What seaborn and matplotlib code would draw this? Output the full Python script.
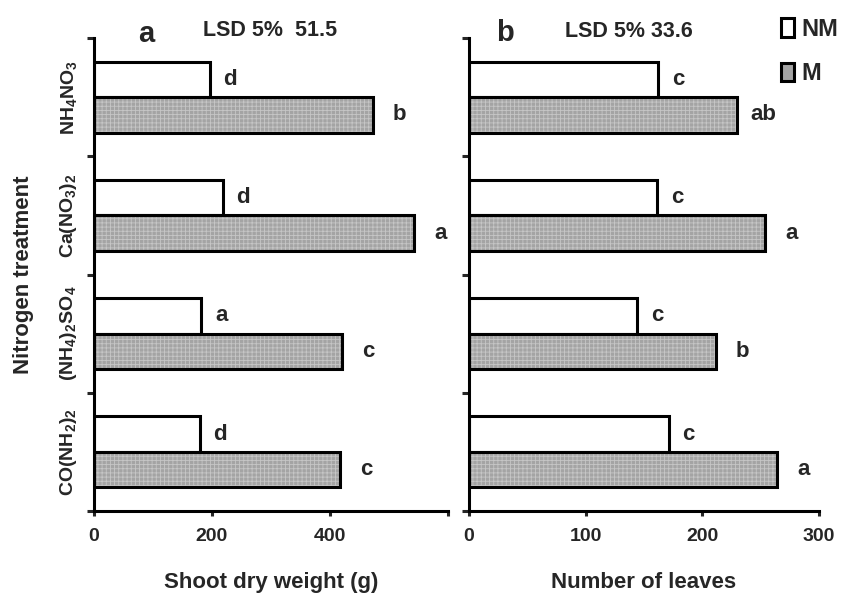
import matplotlib
matplotlib.use("Agg")
import matplotlib.pyplot as plt
import seaborn as sns
import pandas as pd
from matplotlib.patches import Rectangle, Patch

# ---------------- data ----------------
treatments = ["NH$_4$NO$_3$", "Ca(NO$_3$)$_2$", "(NH$_4$)$_2$SO$_4$", "CO(NH$_2$)$_2$"]
groups = ["NM", "M"]

shoot_nm = [196, 218, 182, 179]
shoot_m = [473, 543, 420, 417]
shoot_letters_nm = ["d", "d", "a", "d"]
shoot_letters_m = ["b", "a", "c", "c"]
shoot_ticks = [0, 200, 400, 600]
shoot_ticklabels = ["0", "200", "400", ""]

leaves_nm = [162, 161, 144, 171]
leaves_m = [230, 254, 212, 264]
leaves_letters_nm = ["c", "c", "c", "c"]
leaves_letters_m = ["ab", "a", "b", "a"]
leaves_ticks = [0, 100, 200, 300]
leaves_ticklabels = ["0", "100", "200", "300"]

# ---------------- style ----------------
sns.set_style("ticks")
plt.rcParams["font.family"] = ["Liberation Sans", "DejaVu Sans"]
plt.rcParams["font.weight"] = "bold"
plt.rcParams["axes.labelweight"] = "bold"
plt.rcParams["mathtext.fontset"] = "custom"
plt.rcParams["mathtext.rm"] = "Liberation Sans:bold"
plt.rcParams["mathtext.it"] = "Liberation Sans:bold"
plt.rcParams["mathtext.bf"] = "Liberation Sans:bold"
plt.rcParams["mathtext.default"] = "rm"
plt.rcParams["hatch.linewidth"] = 0.6

LW = 2.2
GRAY = "#a4a4a4"
HATCH_COLOR = "#c6c6c6"

fig = plt.figure(figsize=(8.58, 5.96), dpi=100)
ax_a = fig.add_axes([94 / 858, 1 - 511 / 596, 354 / 858, 473 / 596])
ax_b = fig.add_axes([469 / 858, 1 - 511 / 596, 350 / 858, 473 / 596])


def panel(ax, nm, m, let_nm, let_m, ticks, ticklabels, xlabel, show_y):
    df = pd.DataFrame({
        "treatment": treatments * 2,
        "group": ["NM"] * len(nm) + ["M"] * len(m),
        "value": nm + m,
    })
    sns.barplot(data=df, x="value", y="treatment", hue="group",
                order=treatments, hue_order=groups,
                palette={"NM": "white", "M": GRAY}, saturation=1,
                edgecolor="black", linewidth=LW, width=0.6, orient="h",
                errorbar=None, legend=False, ax=ax)

    # textured grey bars for M
    for p in ax.containers[1]:
        p.set_edgecolor(HATCH_COLOR)
        p.set_hatch("++++")
        p.set_linewidth(0)
        ax.add_patch(Rectangle(p.get_xy(), p.get_width(), p.get_height(),
                               fill=False, edgecolor="black", linewidth=LW,
                               zorder=p.get_zorder() + 0.1))

    # significance letters
    for cont, letters, off in ((ax.containers[0], let_nm, 14.5),
                               (ax.containers[1], let_m, 19)):
        for p, lab in zip(cont, letters):
            ax.annotate(lab, (p.get_x() + p.get_width(), p.get_y() + p.get_height() / 2),
                        xytext=(off, 0), textcoords="offset points",
                        ha="center", va="center", fontsize=16, fontweight="bold")

    n = len(treatments)
    ax.set_ylim(n - 0.5, -0.5)
    ax.set_xlim(ticks[0], ticks[-1])
    ax.set_xticks(ticks)
    ax.set_xticklabels(ticklabels)
    ax.set_yticks([i - 0.5 for i in range(n + 1)])
    ax.set_yticklabels([])
    if show_y:
        ax.set_yticks(range(n), minor=True)
        ax.set_yticklabels(treatments, minor=True, rotation=90, va="center",
                           fontsize=14, fontweight="bold")
    ax.tick_params(axis="y", which="minor", length=0, pad=11)
    ax.tick_params(axis="y", which="major", length=5, width=LW, direction="out")
    ax.tick_params(axis="x", which="major", length=3.5, width=LW, direction="out",
                   pad=8.5, labelsize=14)
    for t in ax.get_xticklabels():
        t.set_fontweight("bold")

    for s in ("top", "right"):
        ax.spines[s].set_visible(False)
    for s in ("left", "bottom"):
        ax.spines[s].set_linewidth(LW)
        ax.spines[s].set_color("black")

    ax.set_xlabel(xlabel, fontsize=16, fontweight="bold")
    ax.xaxis.set_label_coords(0.5, -0.13)
    if show_y:
        ax.set_ylabel("Nitrogen treatment", fontsize=16, fontweight="bold")
        ax.yaxis.set_label_coords(-0.17, 0.5)
    else:
        ax.set_ylabel("")


panel(ax_a, shoot_nm, shoot_m, shoot_letters_nm, shoot_letters_m,
      shoot_ticks, shoot_ticklabels, "Shoot dry weight (g)", True)
panel(ax_b, leaves_nm, leaves_m, leaves_letters_nm, leaves_letters_m,
      leaves_ticks, leaves_ticklabels, "Number of leaves", False)

# panel titles
fig.text(146 / 858, 1 - 42 / 596, "a", ha="center", va="baseline", fontsize=21, fontweight="bold")
fig.text(203 / 858, 1 - 36 / 596, "LSD 5%  51.5", ha="left", va="baseline", fontsize=15.5, fontweight="bold")
fig.text(505 / 858, 1 - 41 / 596, "b", ha="center", va="baseline", fontsize=21, fontweight="bold")
fig.text(565 / 858, 1 - 37 / 596, "LSD 5% 33.6", ha="left", va="baseline", fontsize=15.5, fontweight="bold")

# legend
handles = [Patch(facecolor="white", edgecolor="black", linewidth=LW),
           Patch(facecolor=GRAY, edgecolor="black", linewidth=LW)]
fig.legend(handles, groups, loc="upper left", bbox_to_anchor=(781 / 858, 1 - 18 / 596),
           frameon=False, handlelength=0.55, handleheight=0.85,
           handletextpad=0.3, labelspacing=0.9, borderpad=0, borderaxespad=0,
           prop={"weight": "bold", "size": 17})

fig.savefig("out.png", dpi=100, facecolor="white")
